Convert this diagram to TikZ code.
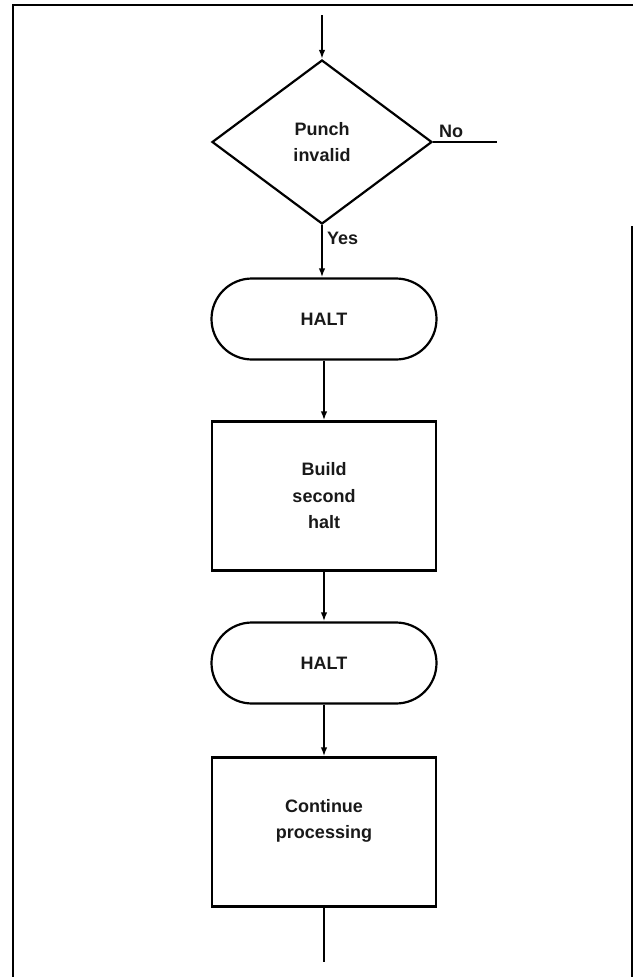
\documentclass[tikz,border=0pt]{standalone}
\usepackage{fontspec}
\setmainfont{Liberation Sans}
\usetikzlibrary{shapes.geometric,shapes.misc,arrows.meta}
\begin{document}
\begin{tikzpicture}[x=1pt,y=-1pt,
  every node/.style={font=\fontsize{18}{26.5}\selectfont\bfseries, text=black!90},
  flowline/.style={line width=2.2pt, black},
  flowarrow/.style={flowline, -{Latex[length=9pt,width=6.5pt]}},
  decision/.style={diamond, draw, line width=2.2pt, inner sep=0pt,
    minimum width=220pt, minimum height=164pt, align=center},
  terminal/.style={rounded rectangle, draw, line width=2.2pt, inner sep=0pt,
    minimum width=225pt, minimum height=81pt},
  process/.style={rectangle, draw, line width=2.2pt, inner sep=0pt,
    minimum width=224pt, minimum height=149pt, align=center},
  tag/.style={inner sep=0pt}]
  \useasboundingbox (0,0) rectangle (633,977);

  % page frame
  \draw[line width=2.6pt] (13,977) -- (13,5) -- (633,5);
  \draw[line width=2.2pt] (632,226) -- (632,977);

  % flowchart nodes
  \node[decision] (test) at (322,142) {Punch\\invalid};
  \node[terminal] (halt1) at (324,319) {HALT};
  \node[process]  (build) at (324,496) {Build\\second\\halt};
  \node[terminal] (halt2) at (324,663) {HALT};
  \node[process]  (cont)  at (324,832) {Continue\\processing\\\mbox{}};

  \coordinate (entry) at (test.north |- 0,15);
  \coordinate (exit)  at (cont.south |- 0,962);
  \coordinate (nope)  at (497,142);

  % connectors
  \draw[flowarrow] (entry) -- (test.north);
  \draw[flowarrow] (test.south) -- (test.south |- halt1.north);
  \draw[flowarrow] (halt1.south) -- (build.north);
  \draw[flowarrow] (build.south) -- (halt2.north);
  \draw[flowarrow] (halt2.south) -- (cont.north);
  \draw[flowline] (cont.south) -- (exit);
  \draw[flowline] (test.east) -- (nope);

  % branch labels
  \node[tag, anchor=west] (yes) at (327,238) {Yes};
  \node[tag] (no) at (451,131) {No};
\end{tikzpicture}
\end{document}
